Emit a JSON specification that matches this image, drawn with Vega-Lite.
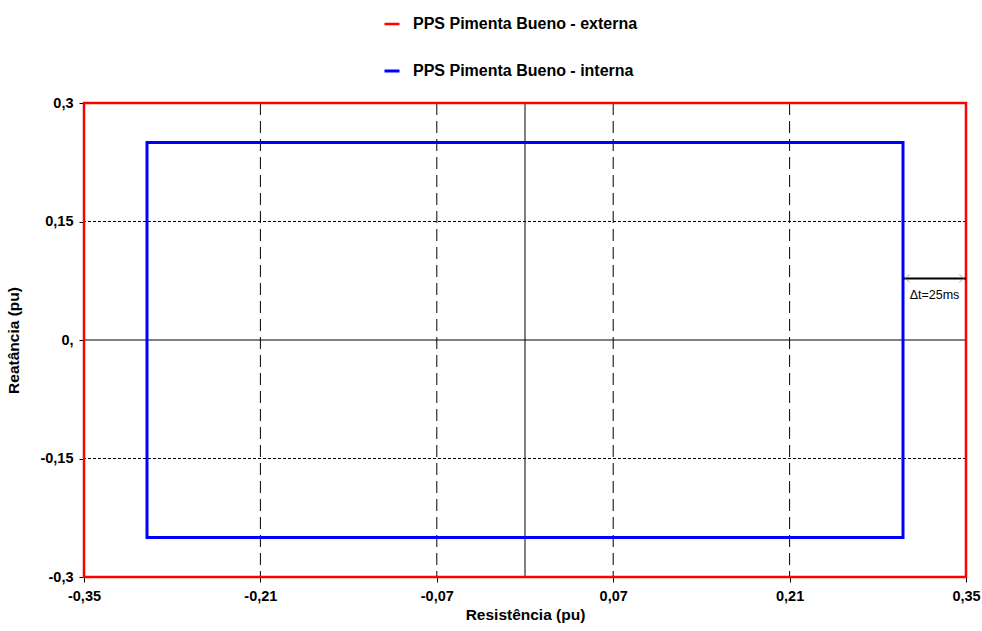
{
  "$schema": "https://vega.github.io/schema/vega-lite/v6.json",
  "width": 882,
  "height": 474,
  "autosize": "none",
  "padding": {"left": 84, "top": 103, "right": 16, "bottom": 54},
  "background": "white",
  "config": {
    "view": {"stroke": "black", "strokeWidth": 1},
    "font": "Liberation Sans"
  },
  "datasets": {
    "zones": [
      {"serie": "PPS Pimenta Bueno - externa", "ordem": 1, "r": -0.35, "x": -0.3},
      {"serie": "PPS Pimenta Bueno - externa", "ordem": 2, "r": -0.35, "x": 0.3},
      {"serie": "PPS Pimenta Bueno - externa", "ordem": 3, "r": 0.35, "x": 0.3},
      {"serie": "PPS Pimenta Bueno - externa", "ordem": 4, "r": 0.35, "x": -0.3},
      {"serie": "PPS Pimenta Bueno - externa", "ordem": 5, "r": -0.35, "x": -0.3},
      {"serie": "PPS Pimenta Bueno - interna", "ordem": 1, "r": -0.3, "x": -0.25},
      {"serie": "PPS Pimenta Bueno - interna", "ordem": 2, "r": -0.3, "x": 0.25},
      {"serie": "PPS Pimenta Bueno - interna", "ordem": 3, "r": 0.3, "x": 0.25},
      {"serie": "PPS Pimenta Bueno - interna", "ordem": 4, "r": 0.3, "x": -0.25},
      {"serie": "PPS Pimenta Bueno - interna", "ordem": 5, "r": -0.3, "x": -0.25}
    ]
  },
  "encoding": {
    "x": {
      "type": "quantitative",
      "scale": {"domain": [-0.35, 0.35], "nice": false, "zero": false},
      "title": "Resistência (pu)",
      "axis": {
        "values": [-0.35, -0.21, -0.07, 0.07, 0.21, 0.35],
        "labelExpr": "replace(toString(datum.value), '.', ',')",
        "labelFlush": false,
        "labelOverlap": false,
        "grid": false,
        "tickSize": 5,
        "tickColor": "black",
        "domainColor": "black",
        "labelFont": "Liberation Sans",
        "labelFontSize": 14.5,
        "labelFontWeight": "bold",
        "labelColor": "black",
        "labelPadding": 7,
        "titleFont": "Liberation Sans",
        "titleFontSize": 15.5,
        "titleFontWeight": "bold",
        "titleColor": "black",
        "titlePadding": 5
      }
    },
    "y": {
      "type": "quantitative",
      "scale": {"domain": [-0.3, 0.3], "nice": false, "zero": false},
      "title": "Reatância (pu)",
      "axis": {
        "values": [-0.3, -0.15, 0, 0.15, 0.3],
        "labelExpr": "datum.value == 0 ? '0,' : replace(toString(datum.value), '.', ',')",
        "labelFlush": false,
        "labelOverlap": false,
        "grid": false,
        "tickSize": 5,
        "tickColor": "black",
        "domainColor": "black",
        "labelFont": "Liberation Sans",
        "labelFontSize": 14.5,
        "labelFontWeight": "bold",
        "labelColor": "black",
        "labelPadding": 6,
        "titleFont": "Liberation Sans",
        "titleFontSize": 15.5,
        "titleFontWeight": "bold",
        "titleColor": "black",
        "titlePadding": 18
      }
    }
  },
  "layer": [
    {
      "data": {"values": [{"v": -0.21}, {"v": -0.07}, {"v": 0.07}, {"v": 0.21}]},
      "mark": {"type": "rule", "color": "black", "strokeWidth": 1, "strokeDash": [12, 6]},
      "encoding": {
        "x": {"field": "v"},
        "y": null
      }
    },
    {
      "data": {"values": [{"v": -0.15}, {"v": 0.15}]},
      "mark": {"type": "rule", "color": "black", "strokeWidth": 1, "strokeDash": [3, 2]},
      "encoding": {
        "y": {"field": "v"},
        "x": null
      }
    },
    {
      "data": {"values": [{"v": 0}]},
      "mark": {"type": "rule", "color": "black", "strokeWidth": 1},
      "encoding": {
        "x": {"field": "v"},
        "y": null
      }
    },
    {
      "data": {"values": [{"v": 0}]},
      "mark": {"type": "rule", "color": "black", "strokeWidth": 1},
      "encoding": {
        "y": {"field": "v"},
        "x": null
      }
    },
    {
      "data": {"name": "zones"},
      "mark": {"type": "line", "strokeJoin": "miter", "strokeCap": "square", "clip": false},
      "encoding": {
        "x": {"field": "r"},
        "y": {"field": "x"},
        "order": {"field": "ordem", "type": "quantitative"},
        "detail": {"field": "serie"},
        "color": {
          "field": "serie", "type": "nominal",
          "scale": {"domain": ["PPS Pimenta Bueno - externa", "PPS Pimenta Bueno - interna"], "range": ["#ff0000", "#0000ff"]},
          "legend": {
            "title": null,
            "orient": "none",
            "legendX": 299,
            "legendY": -88,
            "direction": "vertical",
            "symbolType": "stroke",
            "symbolSize": 225,
            "symbolStrokeWidth": 2.5,
            "labelFont": "Liberation Sans",
            "labelFontSize": 16,
            "labelFontWeight": "bold",
            "labelColor": "black",
            "labelOffset": 12,
            "labelLimit": 400,
            "rowPadding": 30
          }
        },
        "strokeWidth": {
          "field": "serie", "type": "nominal",
          "scale": {"domain": ["PPS Pimenta Bueno - externa", "PPS Pimenta Bueno - interna"], "range": [2.5, 3]},
          "legend": null
        }
      }
    },
    {
      "data": {"values": [{"r1": 0.3, "r2": 0.35, "x": 0.078}]},
      "mark": {"type": "rule", "color": "black", "strokeWidth": 2},
      "encoding": {
        "x": {"field": "r1"},
        "x2": {"field": "r2"},
        "y": {"field": "x"}
      }
    },
    {
      "data": {"values": [{"r": 0.3035, "x": 0.078, "lado": "esq"}, {"r": 0.3465, "x": 0.078, "lado": "dir"}]},
      "mark": {"type": "point", "filled": false, "stroke": "#888888", "strokeWidth": 1, "size": 60},
      "encoding": {
        "x": {"field": "r"},
        "y": {"field": "x"},
        "shape": {
          "field": "lado", "type": "nominal",
          "scale": {"domain": ["esq", "dir"], "range": ["M0.6,-1L-0.6,0L0.6,1", "M-0.6,-1L0.6,0L-0.6,1"]},
          "legend": null
        }
      }
    },
    {
      "data": {"values": [{"r": 0.325, "x": 0.057, "t": "Δt=25ms"}]},
      "mark": {"type": "text", "font": "Liberation Sans", "fontSize": 12.5, "color": "black"},
      "encoding": {
        "x": {"field": "r"},
        "y": {"field": "x"},
        "text": {"field": "t"}
      }
    }
  ]
}
